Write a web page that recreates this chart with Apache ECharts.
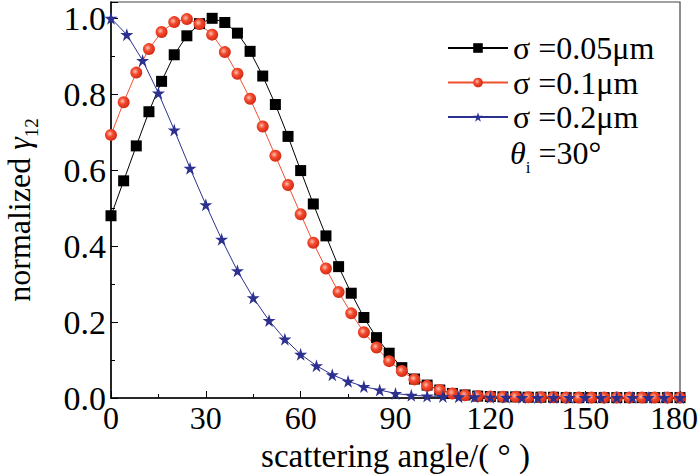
<!DOCTYPE html>
<html>
<head>
<meta charset="utf-8">
<script src="https://cdn.jsdelivr.net/npm/echarts@6/dist/echarts.min.js"></script>
<style>
  html, body { margin: 0; padding: 0; background: #fff; }
  #chart { width: 700px; height: 475px; }
</style>
</head>
<body>
<div id="chart"></div>
<script>
// angle grids (degrees)
const angles4 = [0, 4, 8, 12, 16, 20, 24, 28, 32, 36, 40, 44, 48, 52, 56, 60, 64, 68, 72, 76,
  80, 84, 88, 92, 96, 100, 104, 108, 112, 116, 120, 124, 128, 132, 136, 140, 144, 148, 152, 156,
  160, 164, 168, 172, 176, 180]
const angles5 = [0, 5, 10, 15, 20, 25, 30, 35, 40, 45, 50, 55, 60, 65, 70, 75, 80, 85, 90, 95,
  100, 105, 110, 115, 120, 125, 130, 135, 140, 145, 150, 155, 160, 165, 170, 175, 180]

// sigma = 0.05um
const sigma005 = [0.480, 0.572, 0.664, 0.754, 0.834, 0.904, 0.954, 0.986, 1.000, 0.989,
  0.961, 0.913, 0.848, 0.773, 0.689, 0.599, 0.511, 0.427, 0.346, 0.276,
  0.212, 0.159, 0.118, 0.080, 0.050, 0.034, 0.021, 0.012, 0.008, 0.005,
  0.004, 0.003, 0.003, 0.002, 0.002, 0.002, 0.001, 0.001, 0.001, 0.001,
  0.001, 0.001, 0.001, 0.001, 0.001, 0.001]
// sigma = 0.1um
const sigma01 = [0.693, 0.779, 0.857, 0.919, 0.964, 0.990, 0.998, 0.985, 0.957, 0.911,
  0.854, 0.788, 0.715, 0.638, 0.561, 0.484, 0.409, 0.341, 0.279, 0.223,
  0.173, 0.133, 0.097, 0.071, 0.049, 0.032, 0.021, 0.012, 0.007, 0.005,
  0.004, 0.003, 0.003, 0.002, 0.002, 0.002, 0.001, 0.001, 0.001, 0.001,
  0.001, 0.001, 0.001, 0.001, 0.001, 0.001]
// sigma = 0.2um
const sigma02 = [1.000, 0.957, 0.889, 0.803, 0.706, 0.605, 0.509, 0.418, 0.335, 0.264,
  0.204, 0.155, 0.115, 0.085, 0.061, 0.044, 0.030, 0.021, 0.012, 0.007,
  0.005, 0.004, 0.003, 0.003, 0.002, 0.002, 0.001, 0.001, 0.001, 0.001,
  0.001, 0.001, 0.001, 0.001, 0.001, 0.001, 0.001]

const seriesNames = ['σ =0.05μm', 'σ =0.1μm', 'σ =0.2μm']
const xTicks = [0, 30, 60, 90, 120, 150, 180]

const font = "'Liberation Serif', 'Times New Roman', serif"
const star = 'path://M50,0 L61,35 L98,35 L68,57 L79,92 L50,70 L21,92 L32,57 L2,35 L39,35 Z'

const pairs = (xs, ys) => xs.map((x, i) => [x, ys[i]])

const chart = echarts.init(document.getElementById('chart'), null, { renderer: 'svg' })

chart.setOption({
  animation: false,
  grid: {
    left: 111, right: 20, top: 2, bottom: 77,
    outerBoundsMode: 'none', containLabel: false,
    show: true, borderColor: '#444', borderWidth: 1.2
  },
  legend: {
    orient: 'vertical',
    left: 442,
    top: 27,
    itemWidth: 60,
    itemHeight: 12,
    itemGap: 2.5,
    textStyle: { fontFamily: font, fontSize: 32, color: '#000' },
    data: seriesNames
  },
  graphic: [{
    // incidence angle note under the legend
    type: 'text',
    left: 510,
    top: 137,
    style: {
      text: '{t|θ}{s|i}{n| =30°}',
      rich: {
        t: { fontFamily: font, fontSize: 32, fontStyle: 'italic', fill: '#000', lineHeight: 26, verticalAlign: 'top' },
        s: { fontFamily: font, fontSize: 17, fill: '#000', lineHeight: 17, padding: [22, 0, 0, 0], verticalAlign: 'top' },
        n: { fontFamily: font, fontSize: 32, fill: '#000', lineHeight: 26, verticalAlign: 'top' }
      }
    }
  }],
  xAxis: {
    type: 'value',
    min: 0,
    max: 180,
    interval: 30,
    name: 'scattering angle/( ° )',
    nameLocation: 'middle',
    nameGap: 41,
    nameTextStyle: { fontFamily: font, fontSize: 33, color: '#000' },
    axisLine: { lineStyle: { color: '#000', width: 1.5 } },
    axisTick: { inside: true, length: 7, lineStyle: { color: '#000' } },
    minorTick: { show: true, splitNumber: 2, length: 4, lineStyle: { color: '#000' } },
    splitLine: { show: false },
    axisLabel: {
      fontFamily: font, fontSize: 32, color: '#000', margin: 4,
      formatter: v => (v === 180 ? '{r|180}' : xTicks.includes(v) ? String(v) : ''),
      rich: {
        r: { fontFamily: font, fontSize: 32, color: '#000', padding: [0, 12, 0, 0] }
      }
    }
  },
  yAxis: {
    type: 'value',
    min: 0,
    max: 1.043,
    interval: 0.2,
    name: 'normalized {g|γ}{s|12}',
    nameLocation: 'middle',
    nameRotate: 90,
    nameGap: 76,
    nameTextStyle: {
      fontFamily: font, fontSize: 32, color: '#000', padding: [0, 20, 0, 0],
      rich: {
        g: { fontFamily: font, fontSize: 32, fontStyle: 'italic', color: '#000', lineHeight: 32, verticalAlign: 'top' },
        s: { fontFamily: font, fontSize: 19, color: '#000', lineHeight: 19, padding: [19, 0, 0, 0], verticalAlign: 'top' }
      }
    },
    axisLine: { show: true, lineStyle: { color: '#000', width: 1.5 } },
    axisTick: { show: true, inside: true, length: 7, lineStyle: { color: '#000' } },
    minorTick: { show: true, splitNumber: 2, length: 4, lineStyle: { color: '#000' } },
    splitLine: { show: false },
    axisLabel: {
      fontFamily: font, fontSize: 34, color: '#000', margin: 5, showMaxLabel: false,
      formatter: v => v.toFixed(1)
    }
  },
  series: [
    {
      name: seriesNames[0],
      type: 'line',
      data: pairs(angles4, sigma005),
      symbol: 'rect',
      symbolSize: 11,
      itemStyle: { color: '#000' },
      lineStyle: { color: '#000', width: 1 }
    },
    {
      name: seriesNames[1],
      type: 'line',
      data: pairs(angles4, sigma01),
      symbol: 'circle',
      symbolSize: 12,
      itemStyle: {
        color: {
          type: 'radial', x: 0.4, y: 0.4, r: 0.6,
          colorStops: [
            { offset: 0, color: '#ffc0b0' },
            { offset: 0.45, color: '#f24a2e' },
            { offset: 1, color: '#d42a14' }
          ]
        }
      },
      lineStyle: { color: '#f0502f', width: 1 }
    },
    {
      name: seriesNames[2],
      type: 'line',
      data: pairs(angles5, sigma02),
      symbol: star,
      symbolSize: 13,
      itemStyle: { color: '#2c3190' },
      lineStyle: { color: '#2c3190', width: 1 }
    }
  ]
})
</script>
</body>
</html>
